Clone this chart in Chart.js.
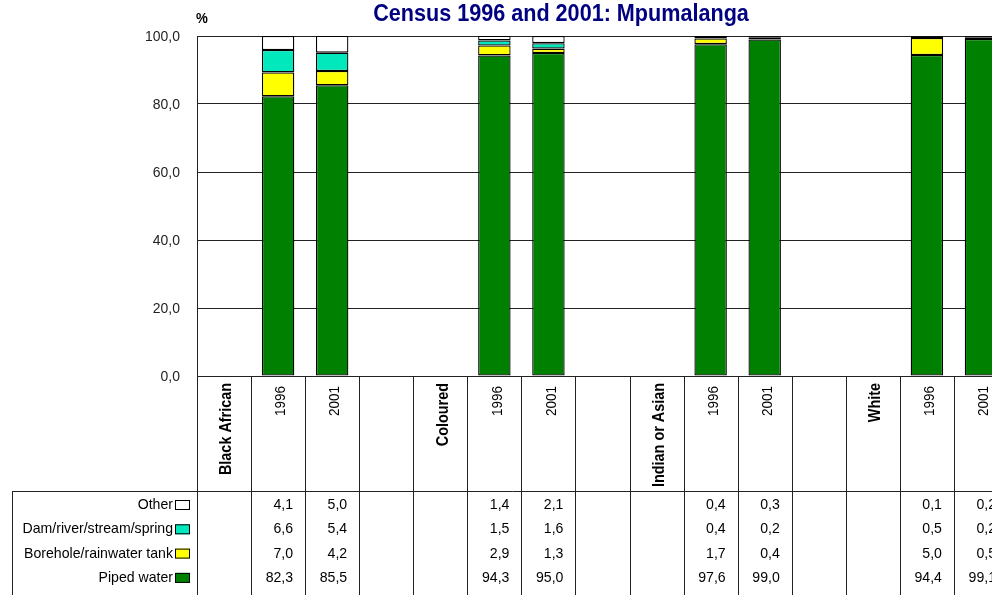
<!DOCTYPE html>
<html>
<head>
<meta charset="utf-8">
<script src="https://cdn.jsdelivr.net/npm/chart.js@4"></script>
<style>
  html, body { margin: 0; padding: 0; background: #fff; overflow: hidden; }
  canvas { display: block; }
</style>
</head>
<body>
<canvas id="myChart" width="1012" height="595"></canvas>
<script>
const FONT = "'Liberation Sans', Arial, sans-serif";

const kategori = ['Black African', '1996', '2001', '', 'Coloured', '1996', '2001', '', 'Indian or Asian', '1996', '2001', '', 'White', '1996', '2001'];

const piped    = [null, 82.3, 85.5, null, null, 94.3, 95.0, null, null, 97.6, 99.0, null, null, 94.4, 99.1];
const borehole = [null, 7.0, 4.2, null, null, 2.9, 1.3, null, null, 1.7, 0.4, null, null, 5.0, 0.5];
const dam      = [null, 6.6, 5.4, null, null, 1.5, 1.6, null, null, 0.4, 0.2, null, null, 0.5, 0.2];
const other    = [null, 4.1, 5.0, null, null, 1.4, 2.1, null, null, 0.4, 0.3, null, null, 0.1, 0.2];

const yTicks = [0, 20, 40, 60, 80, 100];

const judul = 'Census 1996 and 2001: Mpumalanga';

function koma(v, d) {
    return v.toFixed(d).replace('.', ',');
}

// teks dipersempit (mirip Arial Narrow)
function tulis(ctx, teks, x, y, align, font, sx, rot) {
    ctx.save();
    ctx.translate(x, y);
    if (rot) ctx.rotate(rot);
    ctx.scale(sx, 1);
    ctx.font = font;
    ctx.textAlign = align;
    ctx.textBaseline = 'middle';
    ctx.fillText(teks, 0, 0);
    ctx.restore();
}

function seri(label, data, warna) {
    return {
        label: label,
        data: data,
        backgroundColor: warna,
        borderColor: '#000',
        borderWidth: 1.3,
        borderSkipped: false,
        categoryPercentage: 1,
        barPercentage: 0.6
    };
}

const tabelPlugin = {
    id: 'tabel',
    afterDraw(chart) {
        const ctx = chart.ctx;
        const x = chart.scales.x;
        const y = chart.scales.y;
        const area = chart.chartArea;
        const lebar = x.getPixelForValue(1) - x.getPixelForValue(0);
        const tabelTop = 491;
        const bawah = chart.height;

        ctx.save();
        ctx.strokeStyle = '#222';
        ctx.lineWidth = 1;

        // garis vertikal antar kategori
        for (let i = 0; i <= kategori.length; i++) {
            const px = Math.round(x.getPixelForValue(i) - lebar / 2) + 0.5;
            ctx.beginPath();
            ctx.moveTo(px, area.bottom);
            ctx.lineTo(px, bawah);
            ctx.stroke();
        }
        ctx.beginPath();
        ctx.moveTo(12.5, tabelTop + 0.5);
        ctx.lineTo(chart.width, tabelTop + 0.5);
        ctx.moveTo(12.5, tabelTop);
        ctx.lineTo(12.5, bawah);
        ctx.stroke();

        // label sumbu y
        ctx.fillStyle = '#222';
        yTicks.forEach(v => {
            tulis(ctx, koma(v, 1), 180, y.getPixelForValue(v) + 1, 'right', '15px ' + FONT, 0.93);
        });

        // label kategori (vertikal)
        ctx.fillStyle = '#000';
        kategori.forEach((lab, i) => {
            if (!lab) return;
            const tebal = isNaN(Number(lab));
            const font = tebal ? 'bold 16px ' + FONT : '15px ' + FONT;
            tulis(ctx, lab, x.getPixelForValue(i) + 3, area.bottom + (tebal ? 7 : 10), 'right', font, 0.9, -Math.PI / 2);
        });

        // baris tabel: atas ke bawah
        const baris = [chart.data.datasets[3], chart.data.datasets[2], chart.data.datasets[1], chart.data.datasets[0]];
        baris.forEach((ds, r) => {
            const py = tabelTop + 14 + r * 24.3;
            ctx.fillStyle = '#000';
            tulis(ctx, ds.label, 173, py, 'right', '15px ' + FONT, 0.94);
            ctx.fillStyle = ds.backgroundColor;
            ctx.fillRect(175, py - 5, 15, 10);
            ctx.strokeStyle = '#000';
            ctx.strokeRect(175.5, py - 4.5, 14, 9);
            ctx.fillStyle = '#000';
            ds.data.forEach((v, i) => {
                if (v === null) return;
                const kanan = x.getPixelForValue(i) + lebar / 2 - 12;
                tulis(ctx, koma(v, 1), kanan, py, 'right', '15px ' + FONT, 0.94);
            });
        });

        // judul dan satuan
        ctx.fillStyle = '#000080';
        tulis(ctx, judul, 561, 14, 'center', 'bold 24px ' + FONT, 0.9);
        ctx.fillStyle = '#000';
        tulis(ctx, '%', 196, 19, 'left', 'bold 14px ' + FONT, 0.95);
        ctx.restore();
    }
};

const ctx = document.getElementById('myChart');
const chart = new Chart(ctx, {
    type: 'bar',
    data: {
        labels: kategori,
        datasets: [
            seri('Piped water', piped, '#008000'),
            seri('Borehole/rainwater tank', borehole, '#FFFF00'),
            seri('Dam/river/stream/spring', dam, '#00E8BC'),
            seri('Other', other, '#FFFFFF')
        ]
    },
    options: {
        responsive: false,
        animation: false,
        events: [],
        layout: { padding: { top: 36, bottom: 219, left: 197, right: 4 } },
        plugins: {
            legend: { display: false },
            title: { display: false },
            tooltip: { enabled: false }
        },
        scales: {
            x: {
                stacked: true,
                display: false
            },
            y: {
                stacked: true,
                min: 0,
                max: 100,
                afterFit(scale) { scale.width = 0; },
                afterBuildTicks(scale) { scale.ticks = yTicks.map(v => ({ value: v })); },
                ticks: { display: false },
                grid: { color: '#222', lineWidth: 1, drawTicks: false },
                border: { color: '#222', width: 1 }
            }
        }
    },
    plugins: [tabelPlugin]
});
</script>
</body>
</html>
